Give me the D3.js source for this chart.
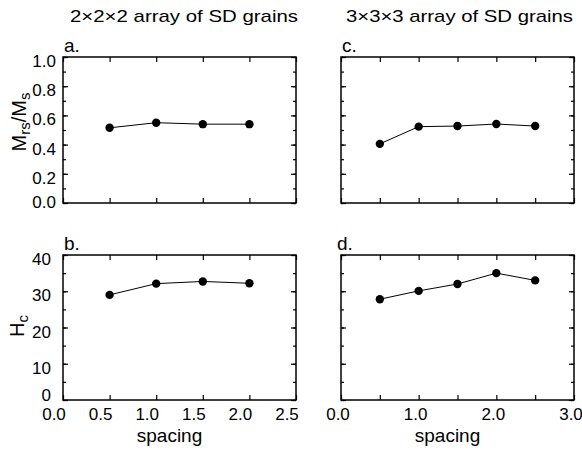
<!DOCTYPE html>
<html>
<head>
<meta charset="utf-8">
<script src="https://cdn.jsdelivr.net/npm/d3@7"></script>
<style>
  body { margin: 0; background: #fff; }
  svg { font-family: "Liberation Sans", Arial, Helvetica, sans-serif; }
</style>
</head>
<body>
<script>
// Data
const spacing2 = [0.5, 1.0, 1.5, 2.0];
const mrs2 = [0.515, 0.55, 0.54, 0.54];
const hc2 = [29.0, 32.1, 32.7, 32.2];

const spacing3 = [0.5, 1.0, 1.5, 2.0, 2.5];
const mrs3 = [0.405, 0.523, 0.527, 0.541, 0.527];
const hc3 = [27.8, 30.1, 32.0, 35.0, 33.0];

const titles = ["2\u00d72\u00d72 array of SD grains", "3\u00d73\u00d73 array of SD grains"];
const mrsTicks = [0, 0.2, 0.4, 0.6, 0.8, 1.0];
const hcTicks = [0, 10, 20, 30, 40];
const xTicks2 = [0, 0.5, 1.0, 1.5, 2.0, 2.5];
const xTicks3 = [0, 1.0, 2.0, 3.0];

// Chart setup
const w = 582, h = 454;
const svg = d3.select("body").append("svg")
  .attr("width", w).attr("height", h);

const panels = [
  {letter: "a.", x0: 63, x1: 296, y0: 57, y1: 203, xs: spacing2, ys: mrs2,
   xMax: 2.5, yMax: 1.0, yMajor: mrsTicks, yMinorStep: 0.1, yFmt: d3.format(".1f"),
   xLabels: null, yLabels: true, xMinor: d3.range(0, 2.51, 0.5)},
  {letter: "b.", x0: 63, x1: 296, y0: 255, y1: 400, xs: spacing2, ys: hc2,
   xMax: 2.5, yMax: 40, yMajor: hcTicks, yMinorStep: 5, yFmt: d3.format("d"),
   xLabels: xTicks2, xdx: -9, yLabels: true, xMinor: d3.range(0, 2.51, 0.5)},
  {letter: "c.", x0: 341, x1: 574, y0: 57, y1: 203, xs: spacing3, ys: mrs3,
   xMax: 3.0, yMax: 1.0, yMajor: mrsTicks, yMinorStep: 0.1, yFmt: d3.format(".1f"),
   xLabels: null, yLabels: false, xMinor: d3.range(0, 3.01, 0.5)},
  {letter: "d.", x0: 341, x1: 574, y0: 255, y1: 400, xs: spacing3, ys: hc3,
   xMax: 3.0, yMax: 40, yMajor: hcTicks, yMinorStep: 5, yFmt: d3.format("d"),
   xLabels: xTicks3, xdx: -3, yLabels: false, xMinor: d3.range(0, 3.01, 0.5)}
];

panels.forEach(p => {
  const x = d3.scaleLinear().domain([0, p.xMax]).range([p.x0, p.x1]);
  const y = d3.scaleLinear().domain([0, p.yMax]).range([p.y1, p.y0]);
  const g = svg.append("g");

  const yMinor = d3.range(0, p.yMax + 1e-9, p.yMinorStep);

  // inward ticks on all four sides
  const tickAxis = (axis, tr) => {
    const a = g.append("g").attr("transform", tr).call(axis);
    a.select(".domain").remove();
    a.selectAll("text").remove();
    a.selectAll("line").attr("stroke", "#000").attr("stroke-width", 1.2);
    return a;
  };
  tickAxis(d3.axisBottom(x).tickValues(p.xMinor).tickSize(-5), `translate(0,${p.y1})`);
  tickAxis(d3.axisTop(x).tickValues(p.xMinor).tickSize(-5), `translate(0,${p.y0})`);
  tickAxis(d3.axisLeft(y).tickValues(yMinor).tickSize(-3), `translate(${p.x0},0)`);
  tickAxis(d3.axisRight(y).tickValues(yMinor).tickSize(-3), `translate(${p.x1},0)`);
  tickAxis(d3.axisLeft(y).tickValues(p.yMajor).tickSize(-5), `translate(${p.x0},0)`);
  tickAxis(d3.axisRight(y).tickValues(p.yMajor).tickSize(-5), `translate(${p.x1},0)`);

  // frame
  g.append("rect")
    .attr("x", p.x0).attr("y", p.y0)
    .attr("width", p.x1 - p.x0).attr("height", p.y1 - p.y0)
    .attr("fill", "none").attr("stroke", "#000").attr("stroke-width", 1.5);

  // y tick labels
  if (p.yLabels) {
    g.selectAll("text.ylab").data(p.yMajor).join("text")
      .attr("class", "ylab")
      .attr("x", p.letter === "b." ? 51 : 56)
      .attr("y", (d, i) => y(d) + (i === 0 ? (p.letter === "b." ? 1 : 5) : 10))
      .attr("text-anchor", "end")
      .attr("font-size", 17)
      .text(d => p.yFmt(d));
  }

  // x tick labels
  if (p.xLabels) {
    g.selectAll("text.xlab").data(p.xLabels).join("text")
      .attr("class", "xlab")
      .attr("x", d => x(d) + p.xdx)
      .attr("y", p.y1 + 20)
      .attr("text-anchor", "middle")
      .attr("font-size", 17)
      .text(d => d3.format(".1f")(d));
    g.append("text")
      .attr("x", (p.x0 + p.x1) / 2 - 10)
      .attr("y", p.y1 + 42)
      .attr("text-anchor", "middle")
      .attr("font-size", 19)
      .text("spacing");
  }

  // panel letter
  g.append("text")
    .attr("x", p.letter === "d." ? p.x0 - 4 : p.x0 + 1)
    .attr("y", p.y0 - 5)
    .attr("font-size", 19)
    .text(p.letter);

  // data line and points
  const pts = p.xs.map((v, i) => [v, p.ys[i]]);
  g.append("path")
    .datum(pts)
    .attr("fill", "none").attr("stroke", "#000").attr("stroke-width", 1)
    .attr("d", d3.line().x(d => x(d[0])).y(d => y(d[1])));
  g.selectAll("circle").data(pts).join("circle")
    .attr("cx", d => x(d[0])).attr("cy", d => y(d[1]))
    .attr("r", 4.2).attr("fill", "#000");
});

// column titles
svg.append("text").attr("x", 70).attr("y", 22).attr("font-size", 17)
  .attr("textLength", 228).attr("lengthAdjust", "spacingAndGlyphs").text(titles[0]);
svg.append("text").attr("x", 346).attr("y", 22).attr("font-size", 17)
  .attr("textLength", 227).attr("lengthAdjust", "spacingAndGlyphs").text(titles[1]);

// y axis labels
const yl1 = svg.append("text")
  .attr("transform", "translate(26,122) rotate(-90)")
  .attr("text-anchor", "middle").attr("font-size", 20);
yl1.append("tspan").text("M");
yl1.append("tspan").attr("font-size", 15).attr("dy", 4).text("rs");
yl1.append("tspan").attr("dy", -4).text("/M");
yl1.append("tspan").attr("font-size", 15).attr("dy", 4).text("s");

const yl2 = svg.append("text")
  .attr("transform", "translate(24,326) rotate(-90)")
  .attr("text-anchor", "middle").attr("font-size", 20);
yl2.append("tspan").text("H");
yl2.append("tspan").attr("font-size", 15).attr("dy", 4).text("c");
</script>
</body>
</html>
